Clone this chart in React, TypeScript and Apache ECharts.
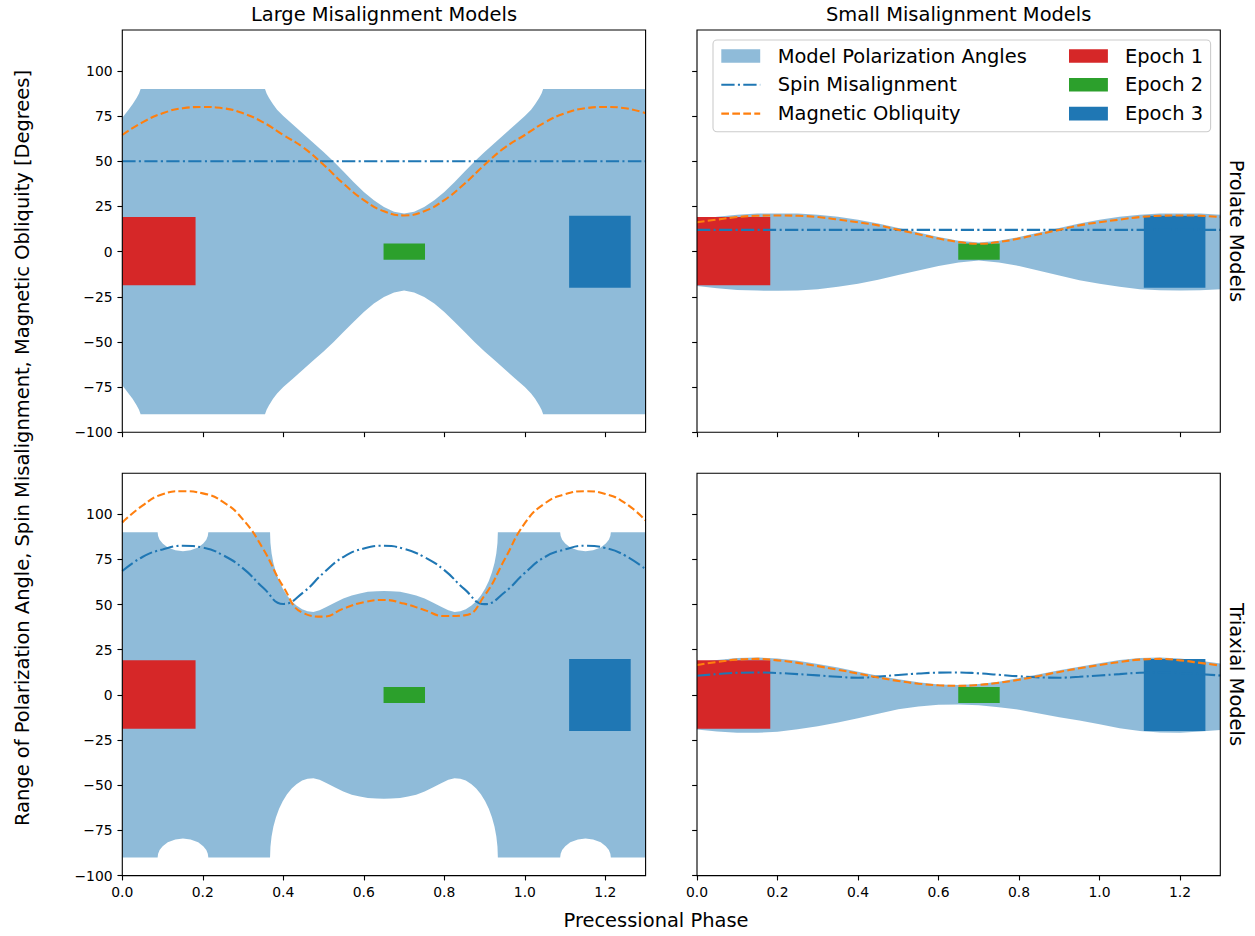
import React, { useEffect, useRef } from "react";
import * as echarts from "echarts";

// ---------- tick labels ----------
const X_TICKS = [0, 0.2, 0.4, 0.6, 0.8, 1.0, 1.2];
const Y_TICKS = [-100, -75, -50, -25, 0, 25, 50, 75, 100];

// ---------- common phase grid for curves ----------
const PHASE = [0, 0.05, 0.1, 0.15, 0.2, 0.25, 0.3, 0.35, 0.4, 0.45, 0.5, 0.55, 0.6, 0.65, 0.7, 0.75, 0.8, 0.85, 0.9, 0.95, 1.0, 1.05, 1.1, 1.15, 1.2, 1.25, 1.3];

// ---------- Large misalignment, prolate ----------
const LARGE_PROLATE_SPIN = [50, 50, 50, 50, 50, 50, 50, 50, 50, 50, 50, 50, 50, 50, 50, 50, 50, 50, 50, 50, 50, 50, 50, 50, 50, 50, 50];
const LARGE_PROLATE_OBLIQUITY = [64.5, 71.5, 76.5, 79.3, 80, 79.3, 76.5, 71.5, 64.5, 57.5, 48, 37.5, 28.5, 22.3, 20, 22.3, 28.5, 37.5, 48, 57.5, 64.5, 71.5, 76.5, 79.3, 80, 79.3, 76.5];
const LARGE_PROLATE_UPPER = [
  [0, 74], [0.0155, 78.5], [0.0255, 81.5], [0.0355, 85], [0.0415, 87.5], [0.0455, 90],
  [0.3545, 90], [0.3585, 87.5], [0.3645, 85], [0.3745, 81.5], [0.3845, 78.5], [0.4, 75],
  [0.425, 70.1], [0.45, 65.1], [0.475, 60.1], [0.5, 55.1], [0.525, 49.8], [0.55, 44.1],
  [0.575, 38.4], [0.6, 33], [0.625, 28.4], [0.65, 24.7], [0.675, 22.1], [0.7, 21],
  [0.725, 22.1], [0.75, 24.7], [0.775, 28.4], [0.8, 33], [0.825, 38.4], [0.85, 44.1],
  [0.875, 49.8], [0.9, 55.1], [0.925, 60.1], [0.95, 65.1], [0.975, 70.1], [1.0, 75],
  [1.0155, 78.5], [1.0255, 81.5], [1.0355, 85], [1.0415, 87.5], [1.0455, 90], [1.3, 90],
];
const LARGE_PROLATE_LOWER = [
  [0, -74], [0.0155, -78.5], [0.0255, -81.5], [0.0355, -85], [0.0415, -87.5], [0.0455, -90],
  [0.3545, -90], [0.3585, -87.5], [0.3645, -85], [0.3745, -81.5], [0.3845, -78.5], [0.4, -75],
  [0.425, -70.1], [0.45, -65.1], [0.475, -60.1], [0.5, -55.3], [0.525, -50], [0.55, -44.4],
  [0.575, -38.8], [0.6, -33.4], [0.625, -28.8], [0.65, -25.1], [0.675, -22.6], [0.7, -21.6],
  [0.725, -22.6], [0.75, -25.1], [0.775, -28.8], [0.8, -33.4], [0.825, -38.8], [0.85, -44.4],
  [0.875, -50], [0.9, -55.3], [0.925, -60.1], [0.95, -65.1], [0.975, -70.1], [1.0, -75],
  [1.0155, -78.5], [1.0255, -81.5], [1.0355, -85], [1.0415, -87.5], [1.0455, -90], [1.3, -90],
];

// ---------- Small misalignment, prolate ----------
const SMALL_PROLATE_SPIN = [12, 12, 12, 12, 12, 12, 12, 12, 12, 12, 12, 12, 12, 12, 12, 12, 12, 12, 12, 12, 12, 12, 12, 12, 12, 12, 12];
const SMALL_PROLATE_OBLIQUITY = [16.2, 17.7, 19.1, 19.8, 20, 19.8, 19.1, 17.7, 16.2, 14.5, 12, 9.6, 7.2, 5.3, 4.3, 5.3, 7.2, 9.6, 12, 14.5, 16.2, 17.7, 19.1, 19.8, 20, 19.8, 19.1];
const SMALL_PROLATE_UPPER = [17.6, 19.2, 20.4, 21, 21.1, 21, 20.4, 19.2, 17.6, 15.5, 13, 10.5, 8, 6, 5, 6, 8, 10.5, 13, 15.5, 17.6, 19.2, 20.4, 21, 21.1, 21, 20.4];
const SMALL_PROLATE_LOWER = [-19, -20.3, -21.2, -21.6, -21.7, -21.5, -20.8, -19.5, -17.8, -15.6, -13, -10.5, -8, -6, -5, -6, -8, -10.6, -13.2, -15.8, -17.8, -19.5, -20.8, -21.4, -21.6, -21.4, -20.8];

// ---------- Large misalignment, triaxial ----------
const LARGE_TRIAXIAL_SPIN = [68.5, 76.3, 80.5, 82.5, 81.5, 77.3, 70, 59.3, 50.3, 56.8, 67.5, 76.4, 81, 82.5, 80.8, 76.3, 69, 58.5, 50.2, 56.8, 67.5, 76.3, 80.5, 82.5, 81.3, 77, 69.5];
const LARGE_TRIAXIAL_OBLIQUITY = [95.4, 104.7, 111, 112.7, 111.5, 106.8, 97, 80.7, 59.8, 45.2, 43.3, 47.8, 51.3, 52.5, 50.5, 47, 43.6, 44, 55, 75, 95, 106, 111, 112.7, 111.2, 106, 96.5];
const LARGE_TRIAXIAL_UPPER = [
  [0, 90],
  [0.0877, 90], [0.089, 87.9], [0.0927, 85.9], [0.1003, 83.7], [0.1129, 81.6], [0.1318, 80], [0.1507, 79.5],
  [0.1696, 80], [0.1885, 81.6], [0.2011, 83.7], [0.2087, 85.9], [0.2124, 87.9], [0.2137, 90],
  [0.367, 90], [0.368, 84], [0.3708, 78.4], [0.3753, 73], [0.3816, 67.8], [0.3895, 63], [0.3985, 58.8],
  [0.4092, 55], [0.4208, 51.8], [0.4326, 49.4], [0.4467, 47.4], [0.4602, 46.3], [0.4746, 45.9],
  [0.49, 46.8], [0.508, 48.7], [0.53, 51.2], [0.549, 53.3], [0.57, 55], [0.59, 56.1], [0.61, 57],
  [0.632, 57.4], [0.65, 57.5], [0.668, 57.4], [0.69, 57], [0.71, 56.1], [0.73, 55], [0.751, 53.3],
  [0.77, 51.2], [0.792, 48.7], [0.81, 46.8], [0.8254, 45.9], [0.8398, 46.3], [0.8533, 47.4],
  [0.8674, 49.4], [0.8792, 51.8], [0.8908, 55], [0.9015, 58.8], [0.9105, 63], [0.9184, 67.8],
  [0.9247, 73], [0.9292, 78.4], [0.932, 84], [0.933, 90],
  [1.0877, 90], [1.089, 87.9], [1.0927, 85.9], [1.1003, 83.7], [1.1129, 81.6], [1.1318, 80], [1.1507, 79.5],
  [1.1696, 80], [1.1885, 81.6], [1.2011, 83.7], [1.2087, 85.9], [1.2124, 87.9], [1.2137, 90],
  [1.3, 90],
];
const LARGE_TRIAXIAL_LOWER = [
  [0, -90],
  [0.0877, -90], [0.089, -87.9], [0.0927, -85.9], [0.1003, -83.7], [0.1129, -81.6], [0.1318, -80], [0.1507, -79.5],
  [0.1696, -80], [0.1885, -81.6], [0.2011, -83.7], [0.2087, -85.9], [0.2124, -87.9], [0.2137, -90],
  [0.367, -90], [0.368, -84], [0.3708, -78.4], [0.3753, -73], [0.3816, -67.8], [0.3895, -63], [0.3985, -58.8],
  [0.4092, -55], [0.4208, -51.8], [0.4326, -49.4], [0.4467, -47.4], [0.4602, -46.4], [0.4746, -46.2],
  [0.49, -47], [0.508, -48.9], [0.53, -51.4], [0.549, -53.5], [0.57, -55.2], [0.59, -56.3], [0.61, -57.1],
  [0.632, -57.4], [0.65, -57.5], [0.668, -57.4], [0.69, -57.1], [0.71, -56.3], [0.73, -55.2], [0.751, -53.5],
  [0.77, -51.4], [0.792, -48.9], [0.81, -47], [0.8254, -46.2], [0.8398, -46.4], [0.8533, -47.4],
  [0.8674, -49.4], [0.8792, -51.8], [0.8908, -55], [0.9015, -58.8], [0.9105, -63], [0.9184, -67.8],
  [0.9247, -73], [0.9292, -78.4], [0.932, -84], [0.933, -90],
  [1.0877, -90], [1.089, -87.9], [1.0927, -85.9], [1.1003, -83.7], [1.1129, -81.6], [1.1318, -80], [1.1507, -79.5],
  [1.1696, -80], [1.1885, -81.6], [1.2011, -83.7], [1.2087, -85.9], [1.2124, -87.9], [1.2137, -90],
  [1.3, -90],
];

// ---------- Small misalignment, triaxial ----------
const SMALL_TRIAXIAL_SPIN = [10.6, 11.5, 12.2, 12.4, 12.1, 11.5, 10.8, 10, 9.5, 10.1, 11, 11.8, 12.3, 12.4, 11.9, 11.1, 10.3, 9.7, 9.5, 10, 10.7, 11.5, 12.2, 12.4, 12.1, 11.5, 10.7];
const SMALL_TRIAXIAL_OBLIQUITY = [16.5, 18.2, 19.5, 19.9, 19.1, 17.7, 15.9, 13.9, 11.8, 9.6, 7.7, 6.2, 5.3, 5, 5.5, 6.7, 8.4, 10.5, 12.7, 14.7, 16.5, 18.2, 19.5, 19.9, 19.1, 17.7, 16.2];
const SMALL_TRIAXIAL_UPPER = [18, 19.3, 20.4, 20.7, 20.1, 18.9, 17.1, 15.1, 12.8, 10.6, 8.6, 7, 5.8, 5.4, 6, 7.3, 9.3, 11.4, 13.6, 15.6, 17.5, 19.3, 20.4, 20.7, 20.1, 18.9, 17.3];
const SMALL_TRIAXIAL_LOWER = [-19.2, -20.3, -20.9, -21, -20.4, -19, -17.3, -15.3, -13, -10.4, -8, -6.4, -5.5, -5.3, -5.7, -6.8, -8.2, -10.3, -12.4, -14.2, -16.3, -18.5, -20, -20.8, -20.9, -20.3, -19.5];

// ---------- observation epochs ----------
const EPOCH_NAMES = ["Epoch 1", "Epoch 2", "Epoch 3"];
const EPOCH_PHASE_START = [0, 0.649, 1.11];
const EPOCH_PHASE_END = [0.182, 0.752, 1.263];
const EPOCH_ANGLE_LOW = [-18.7, -4.5, -20];
const EPOCH_ANGLE_HIGH = [19.1, 4.4, 19.8];

// ---------- styles ----------
const FONT = "DejaVu Sans";
const FILL_COLOR = "rgba(31,119,180,0.5)";
const SPIN_COLOR = "#1f77b4";
const OBLIQ_COLOR = "#ff7f0e";
const EPOCH_COLORS = ["#d62728", "#2ca02c", "#1f77b4"];
const LW = 2.08;
const DASH = [7.7, 3.3];
const DASHDOT = [13.3, 3.3, 2.08, 3.3];
const TICK_FS = 13.9;
const LABEL_FS = 19.44;

const toPairs = (xs: number[], ys: number[]) => xs.map((x, i) => [x, ys[i]]);

const GRID_W = 523.3;
const GRID_H = 402.3;

const PANELS = [
  { left: 122.3, top: 30, showX: false, showY: true, spin: LARGE_PROLATE_SPIN, obliq: LARGE_PROLATE_OBLIQUITY, upper: LARGE_PROLATE_UPPER, lower: LARGE_PROLATE_LOWER },
  { left: 697, top: 30, showX: false, showY: false, spin: SMALL_PROLATE_SPIN, obliq: SMALL_PROLATE_OBLIQUITY, upper: toPairs(PHASE, SMALL_PROLATE_UPPER), lower: toPairs(PHASE, SMALL_PROLATE_LOWER) },
  { left: 122.3, top: 473.3, showX: true, showY: true, spin: LARGE_TRIAXIAL_SPIN, obliq: LARGE_TRIAXIAL_OBLIQUITY, upper: LARGE_TRIAXIAL_UPPER, lower: LARGE_TRIAXIAL_LOWER },
  { left: 697, top: 473.3, showX: true, showY: false, spin: SMALL_TRIAXIAL_SPIN, obliq: SMALL_TRIAXIAL_OBLIQUITY, upper: toPairs(PHASE, SMALL_TRIAXIAL_UPPER), lower: toPairs(PHASE, SMALL_TRIAXIAL_LOWER) },
];

function buildOption() {
  const grid = PANELS.map((p) => ({
    left: p.left, top: p.top, width: GRID_W, height: GRID_H,
    show: true, borderColor: "#000", borderWidth: 1.11, backgroundColor: "transparent", z: 10,
  }));
  const xAxis = PANELS.map((p, i) => ({
    type: "value", gridIndex: i, min: 0, max: 1.3, position: "bottom",
    axisLine: { show: false, onZero: false }, splitLine: { show: false },
    axisTick: { show: true, length: 4.86, lineStyle: { color: "#000", width: 1.11 }, customValues: X_TICKS },
    axisLabel: { show: p.showX, customValues: X_TICKS, formatter: (v: number) => v.toFixed(1), color: "#000", fontSize: TICK_FS, fontFamily: FONT, margin: 9.7 },
  }));
  const yAxis = PANELS.map((p, i) => ({
    type: "value", gridIndex: i, min: -100, max: 122.6, position: "left",
    axisLine: { show: false, onZero: false }, splitLine: { show: false },
    axisTick: { show: true, length: 4.86, lineStyle: { color: "#000", width: 1.11 }, customValues: Y_TICKS },
    axisLabel: { show: p.showY, customValues: Y_TICKS, formatter: (v: number) => (v < 0 ? "\u2212" + Math.abs(v) : String(v)), color: "#000", fontSize: TICK_FS, fontFamily: FONT, margin: 9.7 },
  }));

  const series: any[] = [];
  PANELS.forEach((p, i) => {
    const upper = p.upper;
    const lower = p.lower;
    series.push({
      type: "custom", name: "Model Polarization Angles", xAxisIndex: i, yAxisIndex: i, silent: true, clip: true, z: 2,
      data: [[0.65, 0]],
      renderItem: (_params: any, api: any) => {
        const pts: number[][] = [];
        for (const q of upper) pts.push(api.coord(q));
        for (let k = lower.length - 1; k >= 0; k--) pts.push(api.coord(lower[k]));
        return { type: "polygon", shape: { points: pts }, style: { fill: FILL_COLOR } };
      },
    });
    series.push({
      type: "custom", name: "Epochs", xAxisIndex: i, yAxisIndex: i, silent: true, clip: true, z: 3,
      encode: { x: [0, 1], y: [2, 3] },
      data: EPOCH_NAMES.map((_n, k) => [EPOCH_PHASE_START[k], EPOCH_PHASE_END[k], EPOCH_ANGLE_LOW[k], EPOCH_ANGLE_HIGH[k], k]),
      renderItem: (_params: any, api: any) => {
        const a = api.coord([api.value(0), api.value(3)]);
        const b = api.coord([api.value(1), api.value(2)]);
        return { type: "rect", shape: { x: a[0], y: a[1], width: b[0] - a[0], height: b[1] - a[1] }, style: { fill: EPOCH_COLORS[api.value(4)] } };
      },
    });
    series.push({
      type: "line", name: "Spin Misalignment", xAxisIndex: i, yAxisIndex: i, silent: true, z: 4,
      data: toPairs(PHASE, p.spin), symbol: "none", smooth: 0.5,
      lineStyle: { color: SPIN_COLOR, width: LW, type: DASHDOT },
    });
    series.push({
      type: "line", name: "Magnetic Obliquity", xAxisIndex: i, yAxisIndex: i, silent: true, z: 5,
      data: toPairs(PHASE, p.obliq), symbol: "none", smooth: 0.5,
      lineStyle: { color: OBLIQ_COLOR, width: LW, type: DASH },
    });
  });

  const txt = (text: string, x: number, y: number, align: string, rotation = 0, fs = LABEL_FS) => ({
    type: "text", x, y, rotation, z: 100,
    style: { text, x: 0, y: 0, fill: "#000", fontSize: fs, fontFamily: FONT, align, verticalAlign: "middle" },
  });

  const rows = [56, 84.8, 113.6];
  const c1h = 721.3, c1t = 777.7, c2h = 1069, c2t = 1125, hl = 38.9, hh = 13.6;
  const legend: any[] = [
    { type: "rect", z: 90, shape: { x: 713, y: 40, width: 497.6, height: 91.7, r: 4 }, style: { fill: "rgba(255,255,255,0.8)", stroke: "#cccccc", lineWidth: 1.1 } },
    { type: "rect", z: 100, shape: { x: c1h, y: rows[0] - hh / 2, width: hl, height: hh }, style: { fill: FILL_COLOR } },
    { type: "line", z: 100, shape: { x1: c1h, y1: rows[1], x2: c1h + hl, y2: rows[1] }, style: { stroke: SPIN_COLOR, lineWidth: LW, lineDash: DASHDOT } },
    { type: "line", z: 100, shape: { x1: c1h, y1: rows[2], x2: c1h + hl, y2: rows[2] }, style: { stroke: OBLIQ_COLOR, lineWidth: LW, lineDash: DASH } },
    txt("Model Polarization Angles", c1t, rows[0], "left"),
    txt("Spin Misalignment", c1t, rows[1], "left"),
    txt("Magnetic Obliquity", c1t, rows[2], "left"),
  ];
  EPOCH_NAMES.forEach((n, k) => {
    legend.push({ type: "rect", z: 100, shape: { x: c2h, y: rows[k] - hh / 2, width: hl, height: hh }, style: { fill: EPOCH_COLORS[k] } });
    legend.push(txt(n, c2t, rows[k], "left"));
  });

  const graphic = [
    txt("Large Misalignment Models", 384, 14.5, "center"),
    txt("Small Misalignment Models", 958.7, 14.5, "center"),
    txt("Prolate Models", 1236, 231, "center", -Math.PI / 2),
    txt("Triaxial Models", 1236, 674.5, "center", -Math.PI / 2),
    txt("Range of Polarization Angle, Spin Misalignment, Magnetic Obliquity [Degrees]", 22, 448, "center", Math.PI / 2),
    txt("Precessional Phase", 656, 920, "center"),
    ...legend,
  ];

  return { animation: false, backgroundColor: "#fff", grid, xAxis, yAxis, series, graphic: { elements: graphic } };
}

export default function App() {
  const ref = useRef<HTMLDivElement>(null);
  useEffect(() => {
    document.body.style.margin = "0";
    if (!ref.current) return;
    const chart = echarts.init(ref.current, undefined, { renderer: "svg" });
    chart.setOption(buildOption() as any);
    return () => chart.dispose();
  }, []);
  return <div ref={ref} style={{ width: 1255, height: 936 }} />;
}
